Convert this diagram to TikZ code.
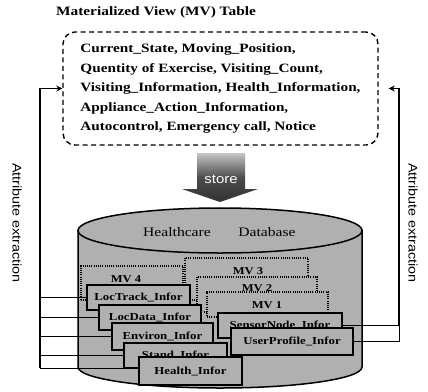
\documentclass[tikz,border=0pt]{standalone}
\usepackage{fontspec}
\setmainfont[FakeStretch=1.2]{Liberation Serif}
\newfontfamily\sansw[FakeStretch=1.15]{Liberation Sans}
\usetikzlibrary{arrows.meta,calc}
\definecolor{dbgray}{gray}{0.69}
\begin{document}
\begin{tikzpicture}[x=1pt,y=-1pt,
 infobox/.style={draw=black,line width=1.7pt,fill=dbgray,inner sep=0pt,font=\bfseries\fontsize{10.7}{12}\selectfont},
 mvframe/.style={draw=black,line width=1.4pt,dash pattern=on 1pt off 1.2pt,fill=dbgray,inner sep=0pt},
 mvlabel/.style={font=\bfseries\fontsize{10.5}{12}\selectfont,inner sep=0pt},
 bus/.style={line width=1.9pt},
 tap/.style={line width=0.9pt},
 tip/.style={-{Stealth[length=6pt,width=6pt]}},
 sidelabel/.style={font=\sansw\fontsize{12.5}{14}\selectfont,rotate=-90,inner sep=0pt},
 dblabel/.style={font=\fontsize{13}{15}\selectfont,inner sep=0pt}
]
\useasboundingbox (0,0) rectangle (428,391);

% title
\node[font=\bfseries\fontsize{12.8}{15}\selectfont,inner sep=0pt] (title) at (156,12) {Materialized View (MV) Table};

% MV table
\node[draw=black,line width=1.4pt,dash pattern=on 5pt off 3.5pt,rounded corners=12pt,
      minimum width=315pt,minimum height=113pt,align=left,inner sep=0pt,
      font=\bfseries\fontsize{12.7}{19.5}\selectfont] (mvtable) at (220.5,88.5)
 {Current\_State, Moving\_Position,\\
  Quentity of Exercise, Visiting\_Count,\\
  Visiting\_Information, Health\_Information,\\
  Appliance\_Action\_Information,\\
  Autocontrol, Emergency call, Notice};

% store arrow
\shade[top color=gray!45,bottom color=black!80,middle color=black!70]
  (197,153) -- (245,153) -- (245,189) -- (258,189) -- (220,202) -- (182,189) -- (197,189) -- cycle;
\node[text=white,font=\sansw\fontsize{13}{15}\selectfont,inner sep=0pt] (store) at (221,179) {store};

% cylinder
\draw[line width=1.5pt,fill=dbgray] (78,230) -- (78,367) arc[start angle=180,end angle=0,x radius=142,y radius=21] -- (362,230) -- cycle;
\draw[line width=1.5pt,fill=dbgray] (220,230.5) ellipse[x radius=142,y radius=22.5];
\node[dblabel] (hc) at (177,232) {Healthcare};
\node[dblabel] (db) at (267,232) {Database};

% MV frames
\node[mvframe,minimum width=102pt,minimum height=34pt] (mv4) at (132,283) {};
\node[mvlabel] (mv4l) at (126,279) {MV 4};
\node[mvframe,minimum width=123pt,minimum height=42pt] (mv3) at (246.5,279) {};
\node[mvlabel] (mv3l) at (248,271) {MV 3};
\node[mvframe,minimum width=120pt,minimum height=35pt] (mv2) at (257,294.5) {};
\node[mvlabel] (mv2l) at (257,288) {MV 2};
\node[mvframe,minimum width=121pt,minimum height=25pt] (mv1) at (267.5,304.5) {};
\node[mvlabel] (mv1l) at (267,305) {MV 1};

% info boxes
\node[infobox,minimum width=103pt,minimum height=25pt] (loctrack) at (138.5,297.5) {LocTrack\_Infor};
\node[infobox,minimum width=102pt,minimum height=25pt] (locdata) at (150,317.5) {LocData\_Infor};
\node[infobox,minimum width=101pt,minimum height=27pt] (environ) at (162.5,336.5) {Environ\_Infor};
\node[infobox,minimum width=103pt,minimum height=25pt] (stand) at (175.5,355.5) {Stand\_Infor};
\node[infobox,minimum width=103pt,minimum height=28pt] (health) at (190.5,371) {Health\_Infor};
\node[infobox,minimum width=124pt,minimum height=25pt] (sensor) at (280,325.5) {SensorNode\_Infor};
\node[infobox,minimum width=122pt,minimum height=27pt] (userprof) at (292,341.5) {UserProfile\_Infor};

% buses
\coordinate (lbx) at (40,0);
\coordinate (rbx) at (399,0);
\draw[bus,tip] ($(health.west -| lbx)+(0,-3)$) |- (mvtable.west);
\foreach \b in {loctrack,locdata,environ,stand}
  \draw[tap] (\b.west -| lbx) -- (\b.west);
\draw[tap] ($(health.west -| lbx)+(0,-3)$) -- ($(health.west)+(0,-3)$);
\draw[bus,tip,shorten >=10pt] (sensor.east -| rbx) |- (mvtable.east);
\draw[tap] (sensor.east) -- (sensor.east -| rbx) -- (userprof.east -| rbx) -- (userprof.east);

% side labels
\node[sidelabel] (lattr) at (17,223) {Attribute extraction};
\node[sidelabel] (rattr) at (413,223) {Attribute extraction};
\end{tikzpicture}
\end{document}
